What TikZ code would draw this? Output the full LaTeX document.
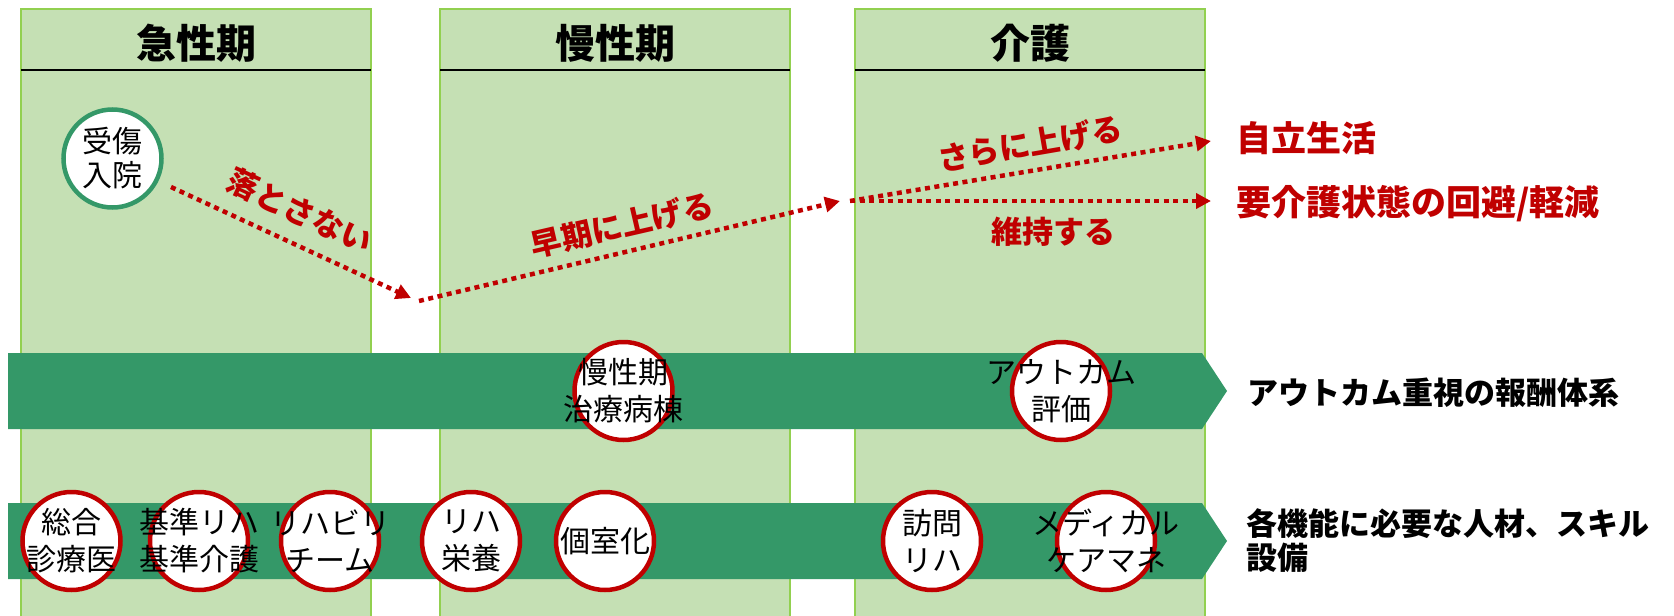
\documentclass[tikz,border=0pt]{standalone}
\usepackage{fontspec}
\setmainfont{Noto Sans CJK JP}
\usetikzlibrary{arrows.meta}
\definecolor{colfill}{RGB}{197,224,180}
\definecolor{colline}{RGB}{146,208,80}
\definecolor{bandgreen}{RGB}{52,152,104}
\definecolor{myred}{RGB}{192,0,0}
\tikzset{
  phase/.style={fill=colfill, draw=colline, line width=2pt},
  headline/.style={draw=black, line width=2pt},
  coltitle/.style={font=\fontsize{40}{42}\selectfont\bfseries, inner sep=0pt},
  bandarrow/.style={fill=bandgreen, draw=none},
  ring/.style={circle, minimum size=98pt, inner sep=0pt, fill=white, draw=myred, line width=4.5pt},
  greenring/.style={circle, minimum size=98pt, inner sep=0pt, fill=white, draw=bandgreen, line width=4.5pt},
  ringtext/.style={font=\fontsize{30}{37}\selectfont, align=center, inner sep=0pt},
  dotarrow/.style={draw=myred, line width=4.5pt, dash pattern=on 5pt off 4.5pt, -{Triangle[length=15pt,width=15pt]}},
  redlabel/.style={font=\fontsize{31}{33}\selectfont\bfseries, text=myred, inner sep=0pt},
  goal/.style={font=\fontsize{35}{37}\selectfont\bfseries, text=myred, inner sep=0pt, anchor=west},
  sidetext/.style={font=\fontsize{31}{34}\selectfont\bfseries, inner sep=0pt, anchor=west, align=left}
}
\begin{document}
\begin{tikzpicture}[x=1pt,y=-1pt]
\useasboundingbox (0,0) rectangle (1674,616);
% phase columns
\path[phase] (21,640) -- (21,9) -- (371,9) -- (371,640);
\path[phase] (440,640) -- (440,9) -- (790,9) -- (790,640);
\path[phase] (855,640) -- (855,9) -- (1205,9) -- (1205,640);
\draw[headline] (21,70) -- (371,70);
\draw[headline] (440,70) -- (790,70);
\draw[headline] (855,70) -- (1205,70);
\node[coltitle] (t1) at (196,43) {急性期};
\node[coltitle] (t2) at (615,43) {慢性期};
\node[coltitle] (t3) at (1030,43) {介護};
% bands
\path[bandarrow] (8,353) -- (1202,353) -- (1227,391) -- (1202,429) -- (8,429) -- cycle;
\path[bandarrow] (8,503) -- (1202,503) -- (1227,541) -- (1202,579) -- (8,579) -- cycle;
% start circle
\node[greenring] (inj) at (112.5,158.5) {};
\node[ringtext, font=\fontsize{30}{34}\selectfont] at (inj) {受傷\\入院};
% arrows
\coordinate (s1) at (171,187);
\coordinate (e1) at (411,298);
\coordinate (s2) at (419,301);
\coordinate (e2) at (840,201);
\coordinate (s3) at (850,201);
\coordinate (e3) at (1211,141);
\coordinate (e4) at (1211,201);
\draw[dotarrow] (s1) -- (e1);
\draw[dotarrow] (s2) -- (e2);
\draw[dotarrow] (s3) -- (e3);
\draw[dotarrow] (s3) -- (e4);
\node[redlabel, rotate=-25] (l1) at (300,211) {落とさない};
\node[redlabel, rotate=13] (l2) at (622,225) {早期に上げる};
\node[redlabel, rotate=9.8] (l3) at (1030,144) {さらに上げる};
\node[redlabel] (l4) at (1053,232) {維持する};
\node[goal] (g1) at (1236,138) {自立生活};
\node[goal] (g2) at (1236,204) {要介護状態の回避/軽減};
% band 1 rings
\node[ring] (r1) at (623.5,391) {};
\node[ringtext] at (r1) {慢性期\\治療病棟};
\node[ring] (r2) at (1061,391) {};
\node[ringtext] at (r2) {アウトカム\\評価};
% band 2 rings
\node[ring] (b1) at (71.5,541) {};
\node[ringtext] at (b1) {総合\\診療医};
\node[ring] (b2) at (199,541) {};
\node[ringtext] at (b2) {基準リハ\\基準介護};
\node[ring] (b3) at (330,541) {};
\node[ringtext] at (b3) {リハビリ\\チーム};
\node[ring] (b4) at (471,541) {};
\node[ringtext] at (b4) {リハ\\栄養};
\node[ring] (b5) at (605,541) {};
\node[ringtext] at (b5) {個室化};
\node[ring] (b6) at (932,541) {};
\node[ringtext] at (b6) {訪問\\リハ};
\node[ring] (b7) at (1106,541) {};
\node[ringtext] at (b7) {メディカル\\ケアマネ};
% side texts
\node[sidetext] (x1) at (1247,393) {アウトカム重視の報酬体系};
\node[sidetext] (x2) at (1246,541) {各機能に必要な人材、スキル\\設備};
\end{tikzpicture}
\end{document}
